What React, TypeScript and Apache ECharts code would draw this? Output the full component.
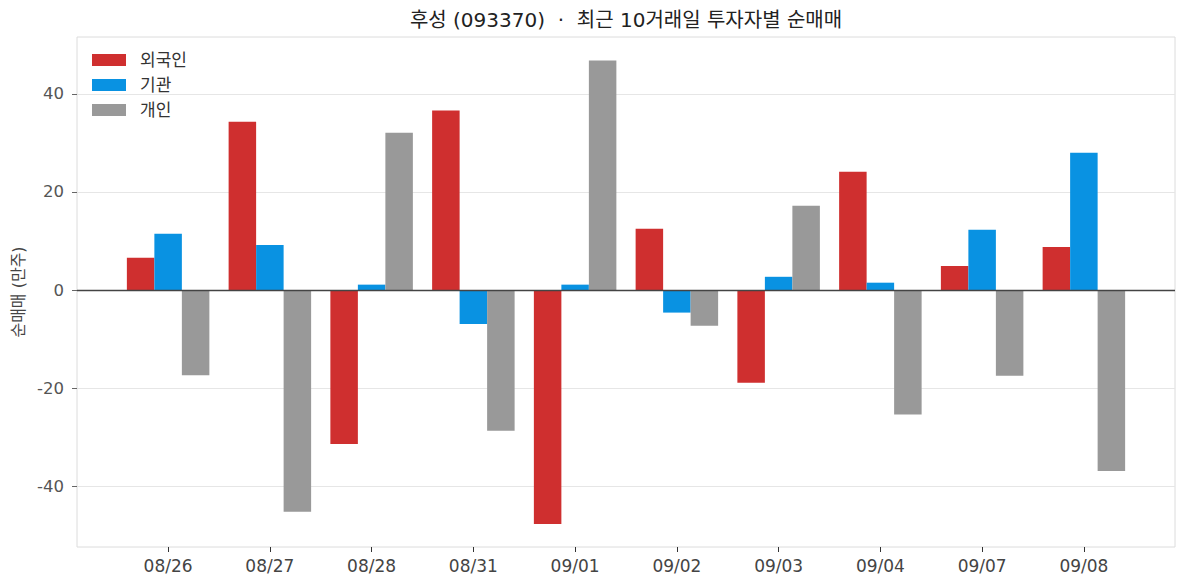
import * as echarts from "echarts";
import React, { useEffect, useRef } from "react";

const FONT = '"DejaVu Sans", "Noto Sans CJK KR", sans-serif';

const categories = ["08/26", "08/27", "08/28", "08/31", "09/01", "09/02", "09/03", "09/04", "09/07", "09/08"];
const foreign = [6.6, 34.3, -31.4, 36.6, -47.7, 12.5, -18.9, 24.1, 4.9, 8.8];
const institution = [11.5, 9.2, 1.1, -6.9, 1.1, -4.6, 2.7, 1.5, 12.3, 28.0];
const individual = [-17.4, -45.2, 32.1, -28.7, 46.8, -7.3, 17.2, -25.4, -17.5, -36.9];
const yTicks = [-40, -20, 0, 20, 40];

const toPoints = (vals: number[]) => vals.map((v, i) => [i, v]);

export default function App() {
	const ref = useRef<HTMLDivElement>(null);

	useEffect(() => {
		document.body.style.margin = "0";
		const chart = echarts.init(ref.current, null, { renderer: "svg" });
		const bar = (name: string, color: string, vals: number[]) => ({
			name,
			type: "bar",
			data: toPoints(vals),
			barWidth: 27.5,
			barGap: "0%",
			itemStyle: { color },
		});
		const s1: any = bar("외국인", "#cf2f2f", foreign);
		// zero line across the full plot
		s1.markLine = {
			silent: true,
			symbol: "none",
			label: { show: false },
			lineStyle: { color: "#444", width: 1.3, type: "solid" },
			data: [{ yAxis: 0 }],
		};
		chart.setOption({
			animation: false,
			textStyle: { fontFamily: FONT },
			title: {
				text: "후성 (093370)  ·  최근 10거래일 투자자별 순매매",
				left: 626,
				textAlign: "center",
				top: 10,
				padding: 0,
				textStyle: { fontSize: 20, fontWeight: "normal", color: "#222", fontFamily: FONT },
			},
			legend: {
				orient: "vertical",
				left: 92,
				top: 51.5,
				padding: 0,
				itemWidth: 34,
				itemHeight: 12,
				itemGap: 8,
				icon: "rect",
				textStyle: { fontSize: 17, color: "#333", lineHeight: 16, padding: [0, 0, 0, 9], fontFamily: FONT },
				data: ["외국인", "기관", "개인"],
			},
			grid: {
				left: 77,
				right: 12,
				top: 37,
				bottom: 40,
				show: true,
				borderColor: "#dcdcdc",
				borderWidth: 1,
			},
			xAxis: {
				type: "value",
				min: -0.8955,
				max: 9.8955,
				axisLine: { show: false, onZero: false },
				splitLine: { show: false },
				axisTick: { show: true, length: 5, customValues: categories.map((_, i) => i), lineStyle: { color: "#333" } },
				axisLabel: {
					customValues: categories.map((_, i) => i),
					formatter: (v: number) => categories[Math.round(v)],
					fontSize: 17,
					color: "#444",
					margin: 10,
				},
			},
			yAxis: {
				type: "value",
				min: -52.4,
				max: 51.6,
				name: "순매매 (만주)",
				nameLocation: "middle",
				nameGap: 51,
				nameTextStyle: { fontSize: 16, color: "#444", fontFamily: FONT },
				axisLine: { show: false, onZero: false },
				axisTick: { show: true, length: 5, customValues: yTicks, lineStyle: { color: "#666" } },
				axisLabel: { customValues: yTicks, fontSize: 16.5, color: "#555", margin: 13 },
				splitLine: { show: true, lineStyle: { color: "#e6e6e6", width: 1 } },
			},
			series: [s1, bar("기관", "#0992e2", institution), bar("개인", "#999999", individual)],
		});
		return () => chart.dispose();
	}, []);

	return <div ref={ref} style={{ width: 1187, height: 587 }} />;
}
